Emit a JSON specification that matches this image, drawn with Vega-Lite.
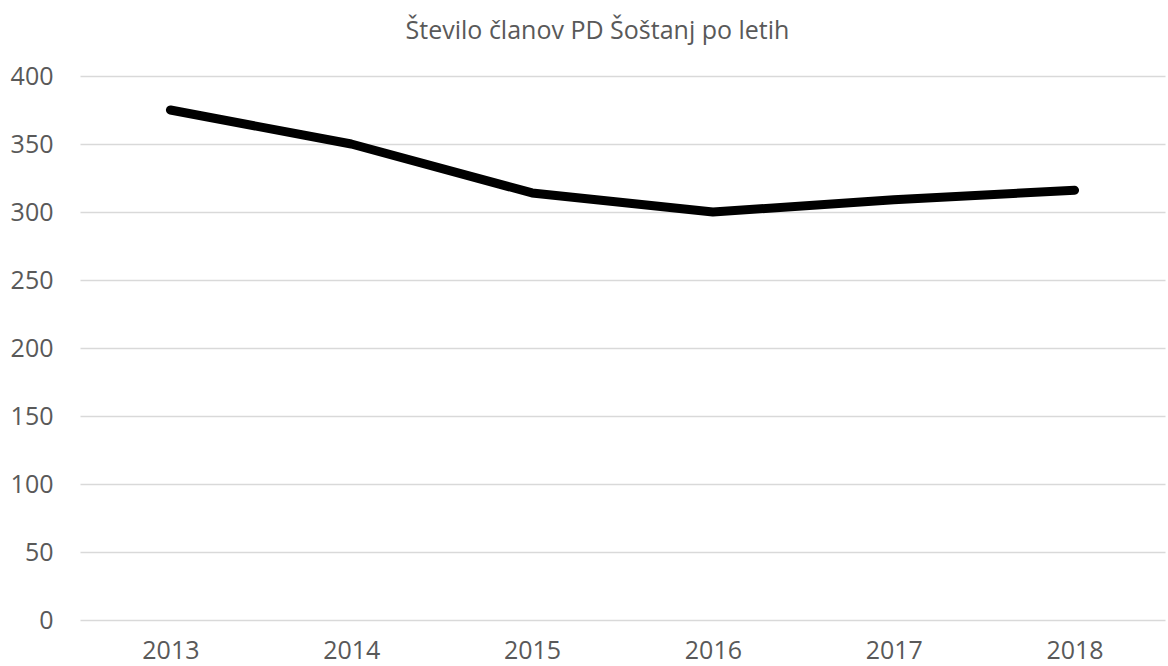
{
  "$schema": "https://vega.github.io/schema/vega-lite/v6.json",
  "width": 1085,
  "height": 544,
  "autosize": {"type": "none"},
  "padding": {"left": 80, "top": 76, "right": 3, "bottom": 46},
  "background": "white",
  "title": {
    "text": "Število članov PD Šoštanj po letih",
    "font": "Open Sans",
    "fontSize": 25,
    "fontWeight": "normal",
    "color": "#595959",
    "anchor": "middle",
    "dx": -25,
    "offset": 20
  },
  "data": {
    "values": [
      {"leto": "2013", "clani": 375},
      {"leto": "2014", "clani": 350},
      {"leto": "2015", "clani": 314},
      {"leto": "2016", "clani": 300},
      {"leto": "2017", "clani": 309},
      {"leto": "2018", "clani": 316}
    ]
  },
  "config": {
    "view": {"stroke": null},
    "axis": {
      "labelFont": "Open Sans",
      "labelFontSize": 25,
      "labelColor": "#595959",
      "ticks": false,
      "domain": false,
      "title": null
    }
  },
  "mark": {"type": "line", "color": "black", "strokeWidth": 9, "strokeCap": "round", "strokeJoin": "round"},
  "encoding": {
    "x": {
      "field": "leto",
      "type": "ordinal",
      "scale": {"type": "point", "padding": 0.5},
      "axis": {"labelAngle": 0, "labelPadding": 18, "grid": false}
    },
    "y": {
      "field": "clani",
      "type": "quantitative",
      "scale": {"domain": [0, 400], "nice": false},
      "axis": {"values": [0, 50, 100, 150, 200, 250, 300, 350, 400], "labelPadding": 27, "grid": true, "gridColor": "#d9d9d9", "gridWidth": 1.5}
    }
  }
}
